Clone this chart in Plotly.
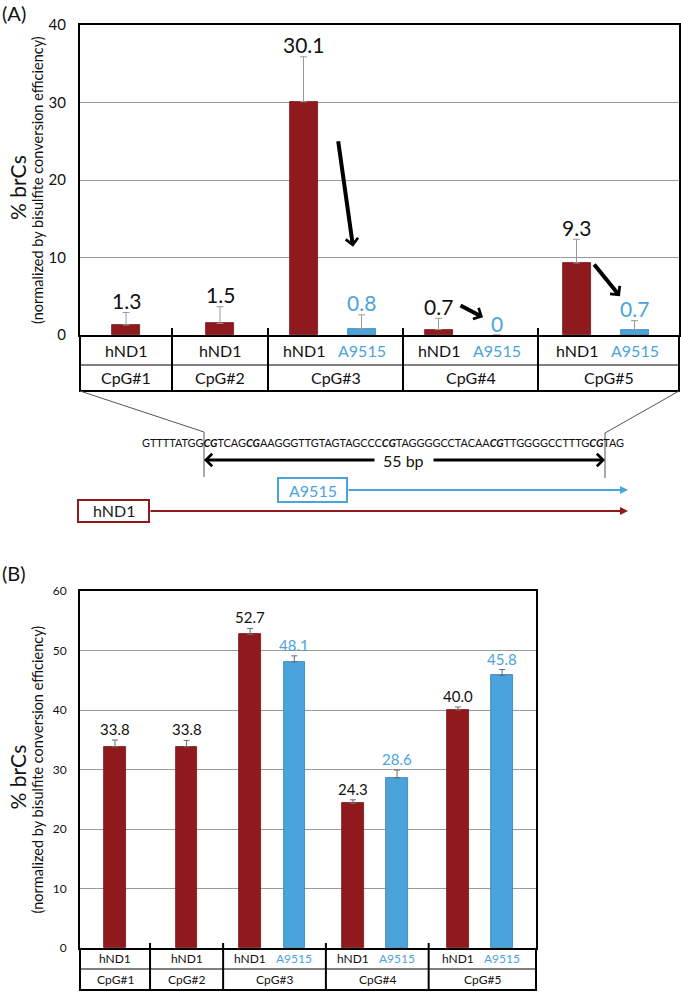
import plotly.graph_objects as go

# ---------------- data ----------------
groups = ["CpG#1", "CpG#2", "CpG#3", "CpG#4", "CpG#5"]
probes = ["hND1", "A9515"]

# panel (A)
a_hnd1 = [1.3, 1.5, 30.1, 0.7, 9.3]
a_hnd1_err = [1.6, 2.15, 5.8, 1.45, 3.05]
a_a9515 = [None, None, 0.8, 0.0, 0.7]
a_a9515_err = [None, None, 1.8, None, 1.15]
a_yticks = [0, 10, 20, 30, 40]

# panel (B)
b_hnd1 = [33.8, 33.8, 52.7, 24.3, 40.0]
b_hnd1_err = [1.15, 1.1, 1.0, 0.6, 0.5]
b_a9515 = [None, None, 48.1, 28.6, 45.8]
b_a9515_err = [None, None, 1.0, 1.3, 1.0]
b_yticks = [0, 10, 20, 30, 40, 50, 60]

seq_parts = ["GTTTTATGG", "CG", "TCAG", "CG", "AAGGGTTGTAGTAGCCC", "CG",
             "TAGGGGCCTACAA", "CG", "TTGGGGCCTTTG", "CG", "TAG"]

# ---------------- style ----------------
W, H = 681, 993
RED = "#8e1a1e"
BLUE = "#4ba3dc"
GRID = "#9a9a9a"
FONT = "Lato, 'Open Sans', sans-serif"
group_widths = [92, 96, 135, 135, 141]
pair_offsets = (-32, 26)
bar_width = 28

edges = [0]
for w in group_widths:
    edges.append(edges[-1] + w)
total = edges[-1]
centers = [(edges[i] + edges[i + 1]) / 2 for i in range(len(groups))]


def px(x):
    return x / W


def py(y):
    return 1 - y / H


PA = dict(x0=80, x1=679, yt=25, yb=335, ym=365, yr=391, tick=15, tab=16,
          lab=21, lshift=12, ymax=40, tickup=7)
PB = dict(x0=80, x1=536, yt=591, yb=948, ym=969, yr=990, tick=12, tab=12,
          lab=15, lshift=11, ymax=60, tickup=5)

fig = go.Figure()
shapes = []
annotations = []


def txt(**kw):
    d = dict(showarrow=False, xanchor="center", yanchor="middle")
    d.update(kw)
    annotations.append(d)


def positions(second):
    hx, ax_ = [], []
    for i, c in enumerate(centers):
        if second[i] is None:
            hx.append(c)
            ax_.append(None)
        else:
            hx.append(c + pair_offsets[0])
            ax_.append(c + pair_offsets[1])
    return hx, ax_


def fmt(v):
    return "0" if v == 0 else f"{v:.1f}"


def add_panel(P, xa, ya, hnd1, hnd1_err, a95, a95_err, errcol, errw):
    hx, axp = positions(a95)
    fig.add_trace(go.Bar(
        x=hx, y=hnd1, width=bar_width, xaxis=xa, yaxis=ya,
        marker=dict(color=RED, line=dict(color="#7a1418", width=0.8)),
        error_y=dict(type="data", array=hnd1_err, arrayminus=[0] * len(hnd1),
                     symmetric=False, color=errcol, thickness=1, width=errw),
        showlegend=False, hoverinfo="skip"))
    bx = [x for x, v in zip(axp, a95) if v is not None]
    bv = [v for v in a95 if v is not None]
    be = [e for e, v in zip(a95_err, a95) if v is not None]
    fig.add_trace(go.Bar(
        x=bx, y=bv, width=bar_width, xaxis=xa, yaxis=ya,
        marker=dict(color=BLUE, line=dict(color="#3a7fae",
                                          width=[0 if v == 0 else 0.8 for v in bv])),
        error_y=dict(type="data", array=be, arrayminus=[0] * len(be),
                     symmetric=False, color=errcol, thickness=1, width=errw),
        showlegend=False, hoverinfo="skip"))

    xr = "x" if xa == "x" else "x2"
    yr = "y" if ya == "y" else "y2"
    for x, v, e in zip(hx, hnd1, hnd1_err):
        txt(x=x, y=v + (e or 0), xref=xr, yref=yr, text=fmt(v), yshift=P["lshift"],
            font=dict(size=P["lab"], color="#111", family=FONT))
    for x, v, e in zip(bx, bv, be):
        txt(x=x, y=v + (e or 0), xref=xr, yref=yr, text=fmt(v), yshift=P["lshift"],
            font=dict(size=P["lab"], color=BLUE, family=FONT))

    dom = xr + " domain"
    row1 = (P["yb"] + P["ym"]) / 2
    row2 = (P["ym"] + P["yr"]) / 2
    shapes.append(dict(type="line", xref="paper", yref="paper",
                       x0=px(P["x0"]), x1=px(P["x1"]), y0=py(P["ym"]), y1=py(P["ym"]),
                       line=dict(color="black", width=1)))
    shapes.append(dict(type="line", xref="paper", yref="paper",
                       x0=px(P["x0"] - 1), x1=px(P["x1"] + 1), y0=py(P["yr"]), y1=py(P["yr"]),
                       line=dict(color="black", width=2)))
    for xe in (P["x0"], P["x1"]):
        shapes.append(dict(type="line", xref="paper", yref="paper",
                           x0=px(xe), x1=px(xe), y0=py(P["yb"]), y1=py(P["yr"]),
                           line=dict(color="black", width=2)))
    for e in edges[1:-1]:
        shapes.append(dict(type="line", xref=dom, yref="paper",
                           x0=e / total, x1=e / total,
                           y0=py(P["yb"] - P["tickup"]), y1=py(P["yr"]),
                           line=dict(color="black", width=2)))
    for i, g in enumerate(groups):
        txt(x=centers[i], xref=xr, y=py(row2), yref="paper", text=g,
            font=dict(size=P["tab"], color="#111", family=FONT))
        txt(x=hx[i], xref=xr, y=py(row1), yref="paper", text=probes[0],
            font=dict(size=P["tab"], color="#111", family=FONT))
        if axp[i] is not None:
            txt(x=axp[i], xref=xr, y=py(row1), yref="paper", text=probes[1],
                font=dict(size=P["tab"], color=BLUE, family=FONT))

    ymid = (P["yt"] + P["yb"]) / 2
    txt(x=px(17), y=py(ymid + 8), xref="paper", yref="paper", text="% brCs",
        textangle=-90, font=dict(size=21, color="#111", family=FONT))
    txt(x=px(37), y=py(ymid), xref="paper", yref="paper",
        text="(normalized by bisulfite conversion efficiency)", textangle=-90,
        font=dict(size=14.5, color="#111", family=FONT))


add_panel(PA, "x", "y", a_hnd1, a_hnd1_err, a_a9515, a_a9515_err, "#9a9a9a", 3.5)
add_panel(PB, "x2", "y2", b_hnd1, b_hnd1_err, b_a9515, b_a9515_err, "#6a6a6a", 3)

arrow_specs = [(2, 2.5, 25.2, 17.5, 11.4), (3, -11.5, 3.9, 12.5, 2.3), (4, -15.5, 9.3, 11.5, 5.0)]
for gi, tdx, ty, hdx, hy in arrow_specs:
    annotations.append(dict(x=centers[gi] + hdx, y=hy, ax=centers[gi] + tdx, ay=ty,
                            xref="x", yref="y", axref="x", ayref="y", text="",
                            showarrow=True, arrowhead=4, arrowsize=0.6, arrowwidth=4,
                            arrowcolor="black", standoff=0))

txt(x=px(0), y=py(13), xref="paper", yref="paper", text="(A)", xanchor="left",
    font=dict(size=20, color="#111", family=FONT))
txt(x=px(0), y=py(573), xref="paper", yref="paper", text="(B)", xanchor="left",
    font=dict(size=20, color="#111", family=FONT))

for pts in ([(80, 391), (204, 432), (204, 477)], [(679, 391), (605, 433), (605, 478)]):
    for (xa_, ya_), (xb_, yb_) in zip(pts[:-1], pts[1:]):
        shapes.append(dict(type="line", xref="paper", yref="paper",
                           x0=px(xa_), y0=py(ya_), x1=px(xb_), y1=py(yb_),
                           line=dict(color="#555", width=1)))

seq_html = "".join(f"<b><i>{p}</i></b>" if p == "CG" else p for p in seq_parts)
txt(x=px(383), y=py(442), xref="paper", yref="paper", text=seq_html,
    font=dict(size=10.9, color="#111", family=FONT))

txt(x=px(404), y=py(460), xref="paper", yref="paper", text="55 bp",
    font=dict(size=16, color="#111", family=FONT))
for head, tail in ((204, 376), (605, 432)):
    annotations.append(dict(x=px(head), y=py(460), xref="paper", yref="paper", text="",
                            ax=tail - head, ay=0, showarrow=True, arrowhead=4,
                            arrowsize=0.8, arrowwidth=3, arrowcolor="black", standoff=0))

for (x0b, y0b, x1b, y1b, col, name, tcol) in ((278, 478, 347, 502, BLUE, "A9515", BLUE),
                                             (78, 500, 149, 522, RED, "hND1", "#222")):
    shapes.append(dict(type="rect", xref="paper", yref="paper",
                       x0=px(x0b), x1=px(x1b), y0=py(y0b), y1=py(y1b),
                       line=dict(color=col, width=2), fillcolor="white"))
    txt(x=px((x0b + x1b) / 2), y=py((y0b + y1b) / 2), xref="paper", yref="paper",
        text=name, font=dict(size=16, color=tcol, family=FONT))
    ym_ = (y0b + y1b) / 2
    annotations.append(dict(x=px(628), y=py(ym_), xref="paper", yref="paper", text="",
                            ax=x1b - 628, ay=0, showarrow=True, arrowhead=2,
                            arrowsize=0.8, arrowwidth=2, arrowcolor=col, standoff=0))

axis_common = dict(showline=True, mirror=True, linewidth=2, linecolor="black",
                   zeroline=False, fixedrange=True, automargin=False)

fig.update_layout(
    width=W, height=H,
    autosize=False,
    margin=dict(l=0, r=0, t=0, b=0, pad=0, autoexpand=False),
    paper_bgcolor="white", plot_bgcolor="white",
    font=dict(family=FONT, color="#111"),
    bargap=0,
    xaxis=dict(domain=[px(PA["x0"]), px(PA["x1"])], range=[0, total], anchor="y",
               showgrid=False, showticklabels=False, ticks="", **axis_common),
    yaxis=dict(domain=[py(PA["yb"]), py(PA["yt"])], range=[0, PA["ymax"]], anchor="x",
               tickvals=a_yticks, showgrid=True, gridcolor=GRID, gridwidth=1, ticks="",
               ticklabelstandoff=9, tickfont=dict(size=PA["tick"], family=FONT, color="#111"),
               **axis_common),
    xaxis2=dict(domain=[px(PB["x0"]), px(PB["x1"])], range=[0, total], anchor="y2",
                showgrid=False, showticklabels=False, ticks="", **axis_common),
    yaxis2=dict(domain=[py(PB["yb"]), py(PB["yt"])], range=[0, PB["ymax"]], anchor="x2",
                tickvals=b_yticks, showgrid=True, gridcolor=GRID, gridwidth=1, ticks="",
                ticklabelstandoff=9, tickfont=dict(size=PB["tick"], family=FONT, color="#111"),
                **axis_common),
    shapes=shapes,
    annotations=annotations,
)

fig.write_html("out.html", config={"displayModeBar": False},
               post_script="document.body.style.margin='0';document.body.style.overflow='hidden';")
